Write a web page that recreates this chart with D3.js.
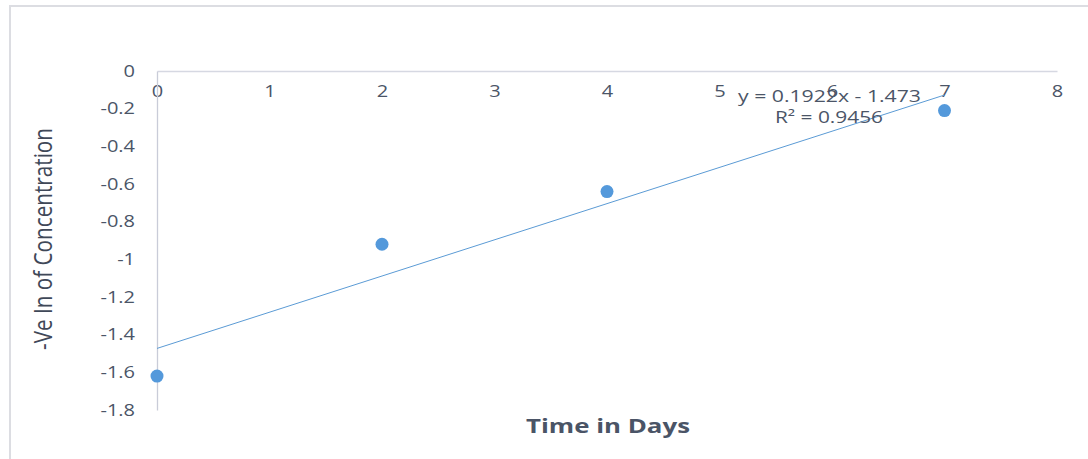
<!DOCTYPE html>
<html><head><meta charset="utf-8">
<script src="https://cdn.jsdelivr.net/npm/d3@7"></script>
<style>html,body{margin:0;padding:0;background:#fff;}svg{display:block;}</style>
</head><body>
<svg id="c" width="1088" height="459"></svg>
<script>
const days = [0, 2, 4, 7];
const lnConc = [-1.62, -0.92, -0.64, -0.21];
const xTicks = [0, 1, 2, 3, 4, 5, 6, 7, 8];
const yTicks = [0, -0.2, -0.4, -0.6, -0.8, -1, -1.2, -1.4, -1.6, -1.8];
const slope = 0.1922, intercept = -1.473;
const eqLabel = "y = 0.1922x - 1.473";
const r2Label = "R² = 0.9456";
const xTitle = "Time in Days";
const yTitle = "-Ve In of Concentration";

const svg = d3.select("#c");
const font = "'Open Sans', 'Liberation Sans', sans-serif";
const txt = "#4b5567";

function stretch(sel, f) {
  sel.each(function(){ const L = this.getComputedTextLength(); d3.select(this).attr("textLength", L*f).attr("lengthAdjust","spacingAndGlyphs"); });
}

// chart frame
svg.append("line").attr("x1",9).attr("x2",1088).attr("y1",6).attr("y2",6).attr("stroke","#dcdde2").attr("stroke-width",2);
svg.append("line").attr("x1",10).attr("x2",10).attr("y1",6).attr("y2",459).attr("stroke","#dcdde2").attr("stroke-width",2);

const x = d3.scaleLinear().domain([0,8]).range([157,1057]);
const y = d3.scaleLinear().domain([0,-1.8]).range([71,410]);

// axes
const xAxis = svg.append("g").attr("transform",`translate(0,${y(0)})`)
  .call(d3.axisBottom(x).tickValues(xTicks).tickSize(0).tickPadding(15).tickFormat(d3.format("d")));
xAxis.select(".domain").attr("stroke","#d6d8e2").attr("stroke-width",1.3);
xAxis.selectAll("text").attr("font-family",font).attr("font-size",16).attr("fill",txt).call(stretch,1.25);

const yAxis = svg.append("g").attr("transform",`translate(${x(0)},0)`)
  .call(d3.axisLeft(y).tickValues(yTicks).tickSize(0).tickPadding(22).tickFormat(d=>d===0?"0":String(d)));
yAxis.select(".domain").attr("stroke","#c9ccd8").attr("stroke-width",1.3);
yAxis.selectAll("text").attr("font-family",font).attr("font-size",16).attr("fill",txt).call(stretch,1.25);

// trendline
svg.append("line")
  .attr("x1",x(0)).attr("y1",y(intercept))
  .attr("x2",x(7)).attr("y2",y(slope*7+intercept))
  .attr("stroke","#5b9bd5").attr("stroke-width",1);

// points
svg.selectAll("circle.pt").data(days).join("circle").attr("class","pt")
  .attr("cx",(d)=>x(d)).attr("cy",(d,i)=>y(lnConc[i])).attr("r",6.5)
  .attr("fill","#5499db");

// equation
svg.append("text").attr("x",829.5).attr("y",102).attr("text-anchor","middle")
  .attr("font-family",font).attr("font-size",16).attr("fill",txt)
  .attr("textLength",183).attr("lengthAdjust","spacingAndGlyphs").text(eqLabel);
svg.append("text").attr("x",829).attr("y",123).attr("text-anchor","middle")
  .attr("font-family",font).attr("font-size",16).attr("fill",txt)
  .attr("textLength",108).attr("lengthAdjust","spacingAndGlyphs").text(r2Label);

// titles
svg.append("text").attr("x",608).attr("y",433).attr("text-anchor","middle")
  .attr("font-family",font).attr("font-size",20).attr("font-weight","bold").attr("fill","#4a5466")
  .attr("textLength",164).attr("lengthAdjust","spacingAndGlyphs").text(xTitle);
svg.append("text").attr("transform","translate(52,239) rotate(-90)").attr("text-anchor","middle")
  .attr("font-family",font).attr("font-size",26).attr("fill","#3f4858")
  .attr("textLength",222).attr("lengthAdjust","spacingAndGlyphs").text(yTitle);
</script>
</body></html>
